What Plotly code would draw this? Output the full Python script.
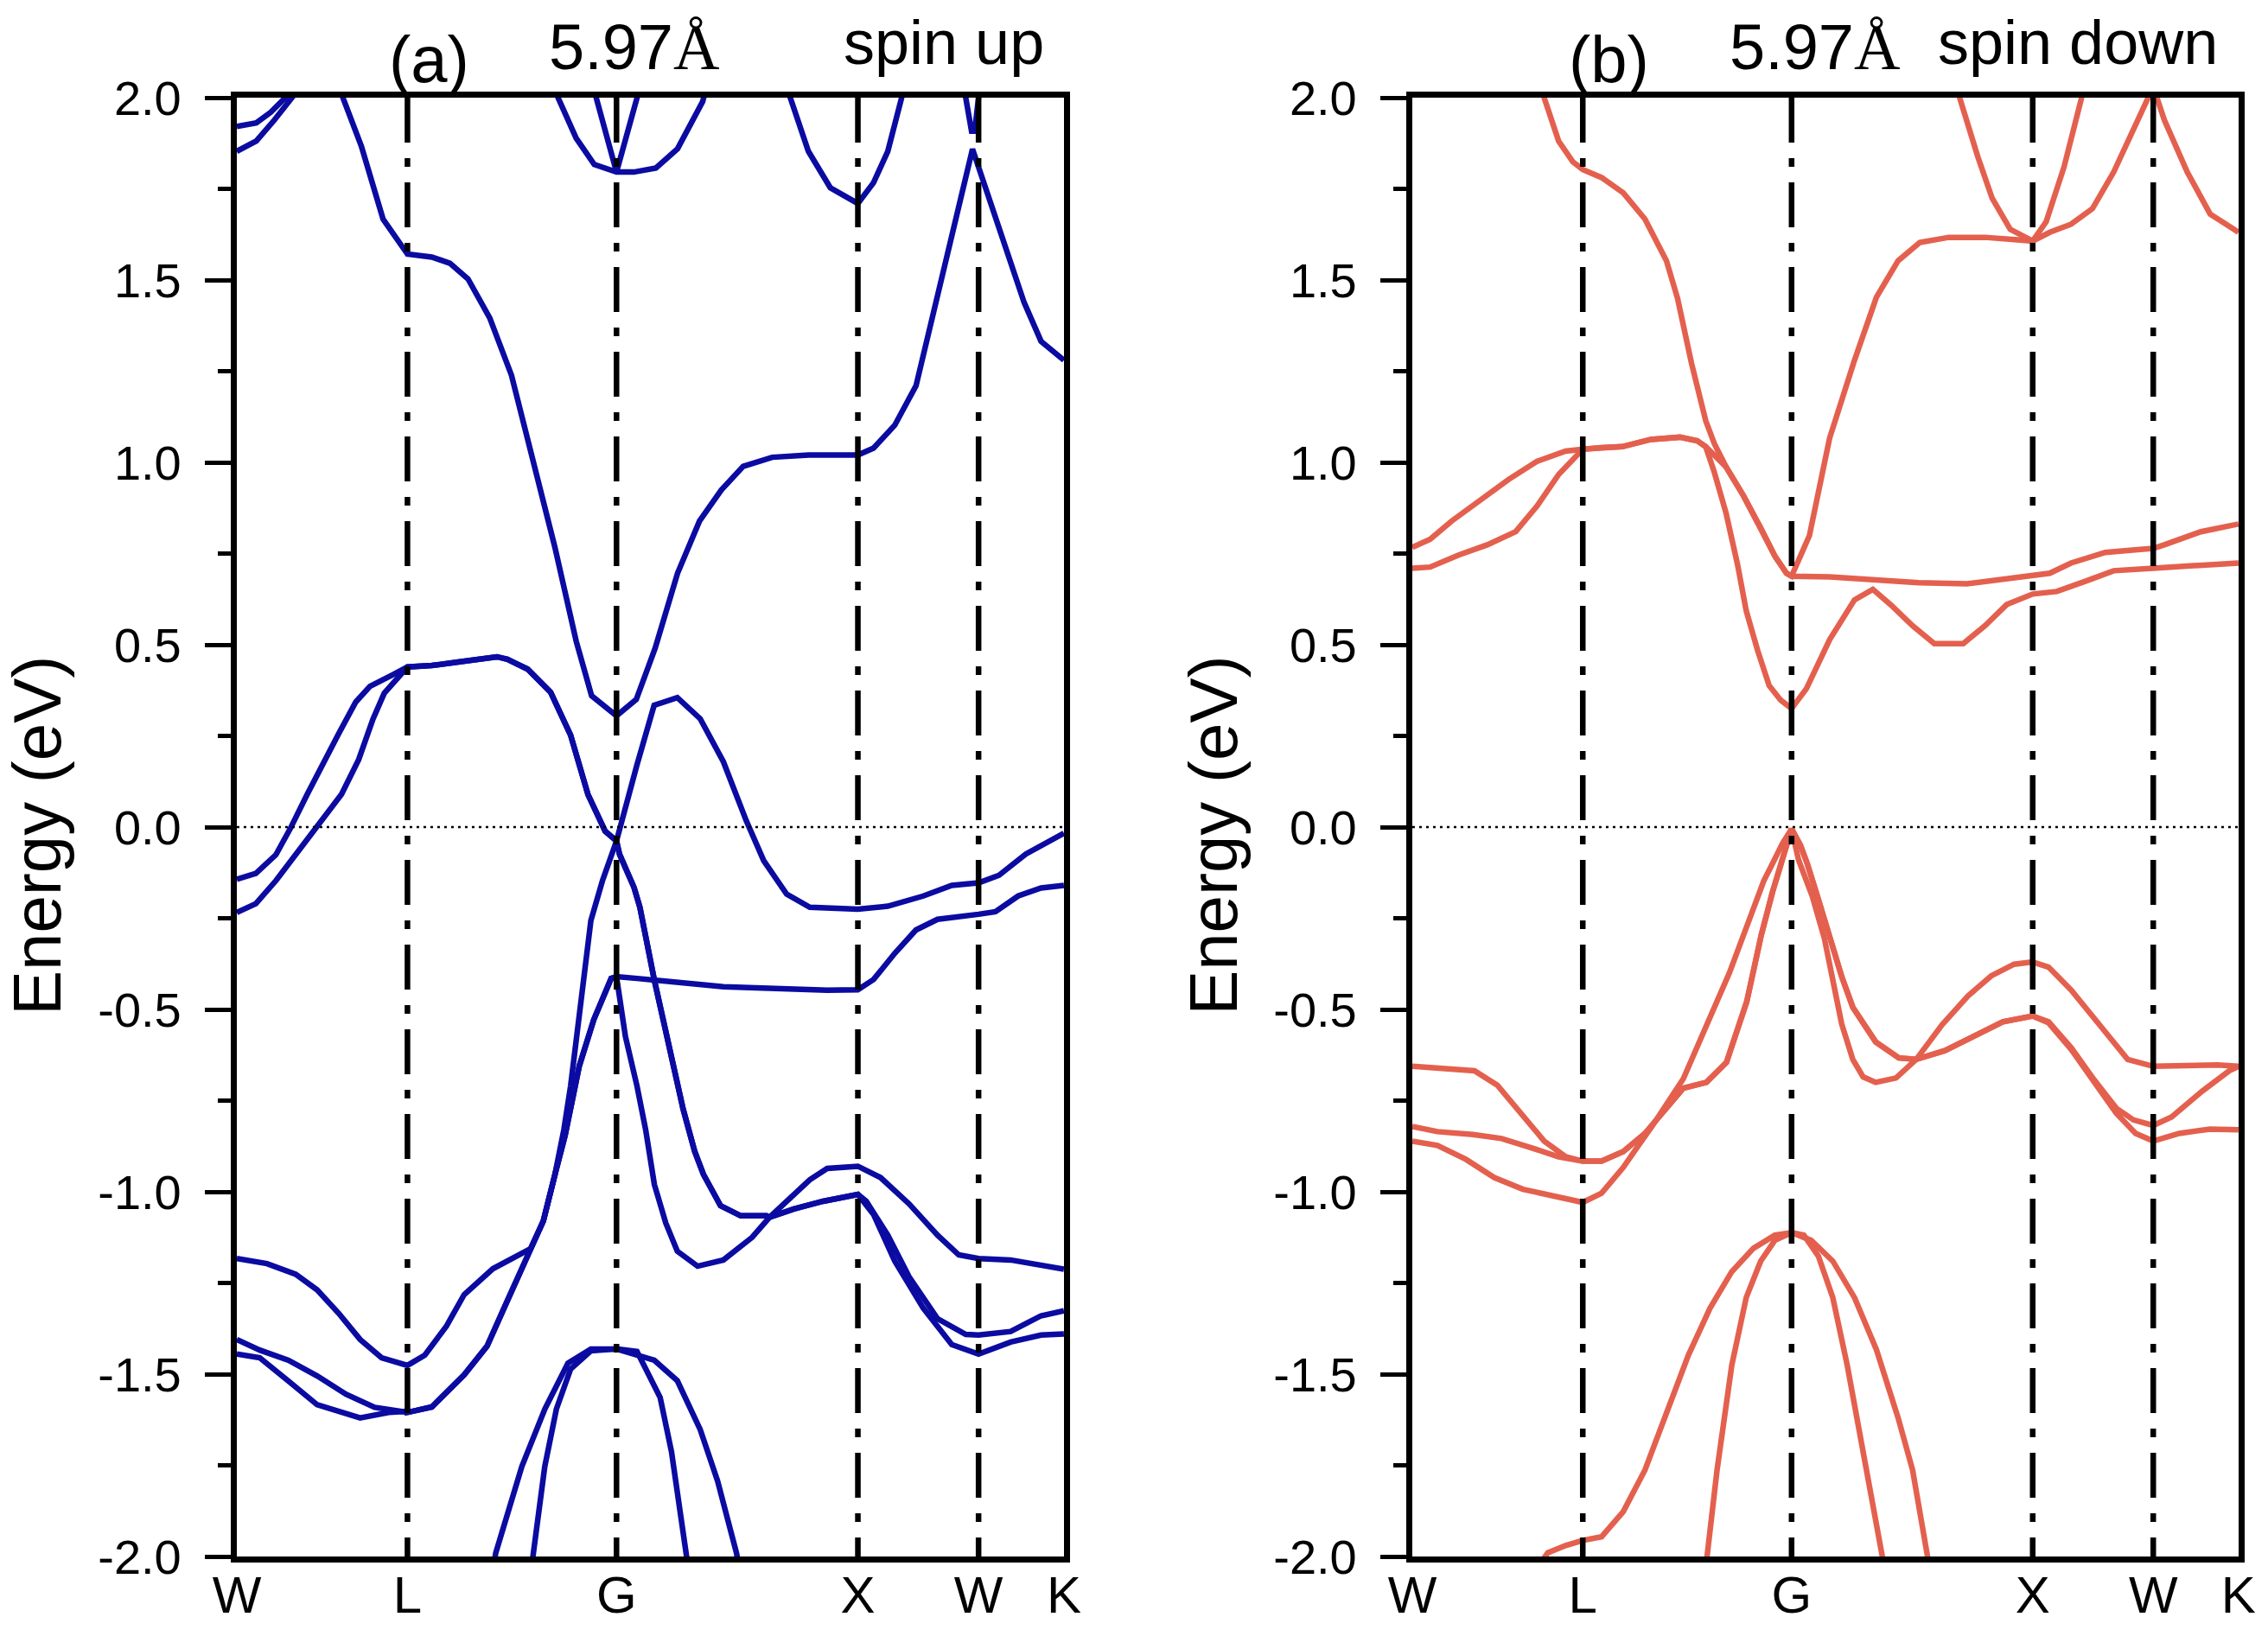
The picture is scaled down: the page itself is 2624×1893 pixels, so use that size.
import plotly.graph_objects as go

# ---------------- axes / labels ----------------
K_PTS = [0.0, 0.7071, 1.5731, 2.5731, 3.0731, 3.4267]
K_LABELS = ["W", "L", "G", "X", "W", "K"]
Y_TICKS = [2.0, 1.5, 1.0, 0.5, 0.0, -0.5, -1.0, -1.5, -2.0]
Y_TICK_TEXT = ["2.0", "1.5", "1.0", "0.5", "0.0", "-0.5", "-1.0", "-1.5", "-2.0"]
Y_MINOR = [1.75, 1.25, 0.75, 0.25, -0.25, -0.75, -1.25, -1.75]

UP_COLOR = "#0b0ba2"
DOWN_COLOR = "#e4604e"

# ---------------- panel (a): spin up ----------------
a_cb1_k = [0.0, 0.081, 0.141, 0.201, 0.246]
a_cb1_e = [1.921, 1.931, 1.96, 2.0, 2.04]
a_cb2_k = [0.0, 0.081, 0.156, 0.231, 0.276]
a_cb2_e = [1.853, 1.881, 1.939, 2.0, 2.04]
a_cb3_k = [0.411, 0.441, 0.516, 0.606, 0.651, 0.7071, 0.808, 0.883, 0.958, 1.048, 1.138, 1.228,
           1.318, 1.406, 1.47, 1.5731, 1.655, 1.733, 1.826, 1.917, 2.007, 2.098, 2.218, 2.369,
           2.5731, 2.638, 2.726, 2.814, 2.898, 3.048, 3.262, 3.332, 3.4267]
a_cb3_e = [2.05, 2.0, 1.867, 1.667, 1.624, 1.571, 1.563, 1.546, 1.503, 1.396, 1.239, 1.01,
           0.767, 0.51, 0.36, 0.305, 0.35, 0.49, 0.696, 0.839, 0.924, 0.989, 1.014, 1.02,
           1.02, 1.039, 1.102, 1.21, 1.438, 1.859, 1.438, 1.332, 1.28]
a_cb4_k = [1.301, 1.331, 1.406, 1.481, 1.5731, 1.645, 1.736, 1.826, 1.93, 1.946]
a_cb4_e = [2.05, 2.0, 1.889, 1.817, 1.796, 1.796, 1.807, 1.86, 1.989, 2.03]
a_cb5_k = [1.471, 1.489, 1.5731, 1.660, 1.675]
a_cb5_e = [2.05, 2.0, 1.796, 2.0, 2.04]
a_cb6_k = [2.278, 2.293, 2.368, 2.459, 2.5731, 2.638, 2.697, 2.757, 2.770]
a_cb6_e = [2.05, 2.0, 1.853, 1.753, 1.71, 1.767, 1.853, 2.0, 2.04]
a_cb7_k = [3.011, 3.020, 3.044, 3.057, 3.073, 3.078]
a_cb7_e = [2.05, 2.0, 1.908, 1.908, 2.0, 2.05]

# valence segments (spin up)
a_v1_wl_k = [0.0, 0.079, 0.162, 0.221, 0.292, 0.351, 0.422, 0.493, 0.552, 0.647, 0.7071]
a_v1_wl_e = [-0.143, -0.127, -0.076, -0.005, 0.09, 0.169, 0.256, 0.343, 0.386, 0.418, 0.439]
a_v2_wl_k = [0.0, 0.079, 0.162, 0.244, 0.321, 0.434, 0.505, 0.564, 0.611, 0.670, 0.7071]
a_v2_wl_e = [-0.234, -0.21, -0.147, -0.076, -0.005, 0.09, 0.185, 0.296, 0.367, 0.414, 0.439]
a_hump_k = [0.7071, 0.808, 0.942, 1.078, 1.121, 1.205, 1.300, 1.383, 1.455, 1.526, 1.5731]
a_hump_e = [0.439, 0.443, 0.453, 0.467, 0.46, 0.433, 0.37, 0.252, 0.089, -0.011, -0.038]
a_d_k = [1.5731, 1.586, 1.646, 1.670, 1.730, 1.777, 1.849, 1.897, 1.933, 2.004, 2.088, 2.195,
         2.207, 2.308, 2.429, 2.5731]
a_d_e = [-0.038, -0.075, -0.166, -0.22, -0.42, -0.556, -0.773, -0.889, -0.952, -1.038, -1.066,
         -1.066, -1.07, -1.047, -1.026, -1.007]
a_d1_k = [2.5731, 2.608, 2.697, 2.785, 2.903, 3.020, 3.0731, 3.206, 3.332, 3.4267]
a_d1_e = [-1.007, -1.026, -1.119, -1.233, -1.348, -1.391, -1.393, -1.383, -1.34, -1.326]
a_d2_k = [2.5731, 2.638, 2.726, 2.844, 2.962, 3.0731, 3.206, 3.332, 3.4267]
a_d2_e = [-1.007, -1.062, -1.19, -1.319, -1.419, -1.445, -1.412, -1.393, -1.39]
a_v3_wl_k = [0.0, 0.125, 0.244, 0.333, 0.422, 0.511, 0.600, 0.7071, 0.779, 0.868, 0.942, 1.061, 1.217]
a_v3_wl_e = [-1.183, -1.197, -1.226, -1.269, -1.333, -1.405, -1.455, -1.476, -1.448, -1.369,
             -1.282, -1.211, -1.156]
a_v4_wl_k = [0.0, 0.095, 0.214, 0.333, 0.452, 0.571, 0.7071]
a_v4_wl_e = [-1.405, -1.434, -1.462, -1.505, -1.555, -1.591, -1.605]
a_v5_wl_k = [0.0, 0.095, 0.214, 0.333, 0.511, 0.630, 0.7071]
a_v5_wl_e = [-1.445, -1.455, -1.519, -1.584, -1.62, -1.605, -1.602]
a_lg_low_k = [0.7071, 0.808, 0.942, 1.037, 1.121, 1.217]
a_lg_low_e = [-1.605, -1.59, -1.502, -1.423, -1.298, -1.156]
a_f_k = [1.217, 1.27, 1.318, 1.36, 1.419, 1.479, 1.551, 1.5731]
a_f_e = [-1.156, -1.08, -0.953, -0.846, -0.655, -0.528, -0.415, -0.41]
a_c_k = [1.217, 1.27, 1.318, 1.355, 1.383, 1.431, 1.467, 1.515, 1.5731, 1.658, 1.729, 1.825,
         1.920, 2.016, 2.111, 2.183, 2.278, 2.374, 2.5731, 2.697, 2.844, 2.962, 3.0731, 3.158,
         3.269, 3.4267]
a_c_e = [-1.156, -1.08, -0.953, -0.83, -0.71, -0.438, -0.256, -0.147, -0.038, 0.171, 0.334, 0.355,
         0.297, 0.179, 0.017, -0.092, -0.184, -0.22, -0.225, -0.217, -0.189, -0.16, -0.153, -0.132,
         -0.074, -0.017]
a_flat_k = [1.5731, 1.658, 1.730, 2.016, 2.446, 2.5731, 2.638, 2.726, 2.814, 2.903, 3.0731,
            3.143, 3.237, 3.332, 3.4267]
a_flat_e = [-0.41, -0.415, -0.42, -0.438, -0.447, -0.446, -0.418, -0.346, -0.282, -0.253, -0.239,
            -0.232, -0.189, -0.167, -0.16]
a_g_k = [1.5731, 1.61, 1.658, 1.694, 1.730, 1.777, 1.825, 1.909, 2.016, 2.135, 2.207, 2.374,
         2.446, 2.5731, 2.667, 2.785, 2.903, 2.991, 3.0731, 3.206, 3.332, 3.4267]
a_g_e = [-0.41, -0.574, -0.71, -0.83, -0.98, -1.085, -1.163, -1.204, -1.187, -1.125, -1.07, -0.967,
         -0.936, -0.93, -0.961, -1.033, -1.119, -1.173, -1.183, -1.187, -1.202, -1.212]
a_deep1_k = [1.055, 1.073, 1.181, 1.276, 1.372, 1.467, 1.5731, 1.730, 1.825, 1.920, 1.992, 2.070, 2.09]
a_deep1_e = [-2.06, -1.99, -1.753, -1.596, -1.47, -1.431, -1.431, -1.462, -1.518, -1.652, -1.793,
             -1.99, -2.06]
a_deep2_k = [1.215, 1.228, 1.276, 1.324, 1.383, 1.467, 1.5731, 1.658, 1.754, 1.801, 1.861, 1.87]
a_deep2_e = [-2.06, -1.99, -1.753, -1.596, -1.486, -1.436, -1.431, -1.438, -1.564, -1.713, -1.99, -2.03]

# ---------------- panel (b): spin down ----------------
b_cb1_k = [0.533, 0.547, 0.607, 0.666, 0.7071, 0.785, 0.875, 0.965, 1.054, 1.10, 1.158, 1.193,
           1.217, 1.253, 1.301, 1.373, 1.444, 1.504, 1.552, 1.5731, 1.647, 1.731, 1.834, 1.925,
           2.015, 2.105, 2.225, 2.375, 2.5731, 2.644, 2.732, 2.821, 2.909, 2.997, 3.0731, 3.119,
           3.214, 3.309, 3.4267]
b_cb1_e = [2.04, 2.0, 1.881, 1.824, 1.803, 1.781, 1.739, 1.667, 1.553, 1.45, 1.272, 1.178,
           1.114, 1.051, 0.988, 0.909, 0.822, 0.743, 0.696, 0.688, 0.799, 1.067, 1.28, 1.453,
           1.553, 1.603, 1.617, 1.617, 1.607, 1.631, 1.653, 1.696, 1.796, 1.924, 2.03, 1.939,
           1.796, 1.681, 1.631]
b_cb2_k = [2.255, 2.270, 2.345, 2.405, 2.480, 2.5731, 2.629, 2.703, 2.776, 2.79]
b_cb2_e = [2.05, 2.0, 1.839, 1.724, 1.639, 1.607, 1.66, 1.81, 2.0, 2.04]
b_wl_up_k = [0.0, 0.074, 0.163, 0.281, 0.399, 0.518, 0.636, 0.7071]
b_wl_up_e = [0.767, 0.789, 0.839, 0.896, 0.953, 1.003, 1.031, 1.036]
b_wl_lo_k = [0.0, 0.074, 0.192, 0.311, 0.429, 0.518, 0.607, 0.7071]
b_wl_lo_e = [0.71, 0.713, 0.746, 0.774, 0.81, 0.881, 0.967, 1.036]
b_hump_k = [0.7071, 0.79, 0.871, 0.990, 1.110, 1.182, 1.217]
b_hump_e = [1.036, 1.041, 1.043, 1.063, 1.069, 1.059, 1.043]
b_steep_k = [1.217, 1.253, 1.301, 1.349, 1.385, 1.433, 1.480, 1.528, 1.5731]
b_steep_e = [1.043, 0.972, 0.862, 0.72, 0.593, 0.483, 0.388, 0.348, 0.325]
b_wiggle_k = [1.5731, 1.635, 1.731, 1.834, 1.910, 1.985, 2.075, 2.165, 2.285, 2.375, 2.465,
              2.5731, 2.673, 2.791, 2.909, 3.0731, 3.246, 3.4267]
b_wiggle_e = [0.325, 0.38, 0.514, 0.623, 0.652, 0.609, 0.552, 0.503, 0.503, 0.552, 0.61,
              0.639, 0.646, 0.674, 0.703, 0.71, 0.717, 0.724]
b_merge_k = [1.217, 1.301, 1.373, 1.444, 1.504, 1.552, 1.5731]
b_merge_e = [1.043, 0.988, 0.909, 0.822, 0.743, 0.696, 0.688]
b_flat_k = [1.5731, 1.731, 1.90, 2.10, 2.30, 2.45, 2.5731, 2.644, 2.732, 2.874, 2.997, 3.0731,
            3.119, 3.271, 3.4267]
b_flat_e = [0.688, 0.686, 0.679, 0.67, 0.667, 0.681, 0.689, 0.696, 0.724, 0.753, 0.76, 0.764,
            0.774, 0.81, 0.831]

b_v1_wl_k = [0.0, 0.258, 0.353, 0.471, 0.547, 0.636, 0.7071]
b_v1_wl_e = [-0.656, -0.668, -0.708, -0.803, -0.861, -0.904, -0.916]
b_v2_wl_k = [0.0, 0.104, 0.252, 0.37, 0.488, 0.607, 0.7071]
b_v2_wl_e = [-0.821, -0.835, -0.843, -0.854, -0.878, -0.904, -0.916]
b_v3_wl_k = [0.0, 0.104, 0.222, 0.34, 0.459, 0.577, 0.7071]
b_v3_wl_e = [-0.861, -0.873, -0.911, -0.961, -0.993, -1.011, -1.029]
b_inner_k = [0.7071, 0.785, 0.875, 0.965, 1.055, 1.124, 1.220, 1.303, 1.387, 1.447, 1.494, 1.530, 1.5731]
b_inner_e = [-0.916, -0.916, -0.89, -0.84, -0.77, -0.716, -0.70, -0.645, -0.479, -0.297, -0.178,
             -0.10, -0.005]
b_outer_k = [0.7071, 0.785, 0.875, 0.935, 0.995, 1.124, 1.244, 1.315, 1.387, 1.458, 1.494, 1.535, 1.5731]
b_outer_e = [-1.029, -1.004, -0.933, -0.876, -0.82, -0.69, -0.51, -0.40, -0.273, -0.147, -0.10,
             -0.045, -0.005]
b_qs_k = [1.5731, 1.61, 1.638, 1.685, 1.731, 1.781, 1.827, 1.922, 2.018, 2.090, 2.209, 2.329, 2.449, 2.5731]
b_qs_e = [-0.005, -0.05, -0.10, -0.2, -0.297, -0.41, -0.494, -0.589, -0.633, -0.637, -0.613,
          -0.573, -0.534, -0.518]
b_qd_k = [1.5731, 1.602, 1.659, 1.709, 1.755, 1.781, 1.827, 1.87, 1.922, 2.006, 2.090, 2.197,
          2.305, 2.401, 2.496, 2.5731]
b_qd_e = [-0.005, -0.09, -0.19, -0.305, -0.455, -0.54, -0.637, -0.685, -0.70, -0.688, -0.637,
          -0.542, -0.463, -0.408, -0.376, -0.37]
b_xw_up_k = [2.5731, 2.639, 2.733, 2.850, 2.967, 3.0731, 3.212, 3.339, 3.4267]
b_xw_up_e = [-0.37, -0.384, -0.447, -0.542, -0.637, -0.656, -0.652, -0.652, -0.656]
b_d1_k = [2.5731, 2.639, 2.733, 2.827, 2.920, 2.991, 3.0731, 3.149, 3.276, 3.389, 3.4267]
b_d1_e = [-0.518, -0.534, -0.605, -0.692, -0.771, -0.803, -0.818, -0.795, -0.724, -0.668, -0.656]
b_d2_k = [2.5731, 2.639, 2.733, 2.827, 2.920, 3.0, 3.0731, 3.181, 3.309, 3.4267]
b_d2_e = [-0.518, -0.537, -0.61, -0.70, -0.785, -0.84, -0.861, -0.84, -0.828, -0.83]
b_deep1_k = [0.518, 0.562, 0.636, 0.7071, 0.785, 0.875, 0.965, 1.055, 1.145, 1.235, 1.325, 1.415,
             1.504, 1.5731, 1.654, 1.744, 1.834, 1.925, 2.015, 2.075, 2.135, 2.15]
b_deep1_e = [-2.03, -1.99, -1.97, -1.956, -1.946, -1.877, -1.763, -1.605, -1.448, -1.319, -1.219,
             -1.155, -1.119, -1.112, -1.133, -1.19, -1.29, -1.433, -1.62, -1.763, -2.0, -2.05]
b_deep2_k = [1.219, 1.264, 1.325, 1.385, 1.445, 1.504, 1.5731, 1.624, 1.684, 1.744, 1.804, 1.864, 1.955]
b_deep2_e = [-2.02, -1.763, -1.476, -1.29, -1.19, -1.133, -1.112, -1.119, -1.176, -1.29, -1.476,
             -1.691, -2.02]


def join(*segs):
    ks, es = [], []
    for k, e in segs:
        ks.extend(k)
        es.extend(e)
    return ks, es


up_bands = [
    (a_cb1_k, a_cb1_e), (a_cb2_k, a_cb2_e), (a_cb3_k, a_cb3_e), (a_cb4_k, a_cb4_e),
    (a_cb5_k, a_cb5_e), (a_cb6_k, a_cb6_e), (a_cb7_k, a_cb7_e),
    join((a_v1_wl_k, a_v1_wl_e), (a_hump_k, a_hump_e), (a_d_k, a_d_e), (a_d2_k, a_d2_e)),
    join((a_v2_wl_k, a_v2_wl_e), (a_hump_k, a_hump_e), (a_d_k, a_d_e), (a_d1_k, a_d1_e)),
    join((a_v3_wl_k, a_v3_wl_e), (a_f_k, a_f_e), (a_flat_k, a_flat_e)),
    join((a_v4_wl_k, a_v4_wl_e), (a_lg_low_k, a_lg_low_e), (a_c_k, a_c_e)),
    join((a_v5_wl_k, a_v5_wl_e), (a_lg_low_k, a_lg_low_e), (a_f_k, a_f_e), (a_g_k, a_g_e)),
    (a_deep1_k, a_deep1_e), (a_deep2_k, a_deep2_e),
]

down_bands = [
    (b_cb1_k, b_cb1_e), (b_cb2_k, b_cb2_e),
    join((b_wl_up_k, b_wl_up_e), (b_hump_k, b_hump_e), (b_steep_k, b_steep_e), (b_wiggle_k, b_wiggle_e)),
    join((b_wl_lo_k, b_wl_lo_e), (b_hump_k, b_hump_e), (b_merge_k, b_merge_e), (b_flat_k, b_flat_e)),
    join((b_v1_wl_k, b_v1_wl_e), (b_inner_k, b_inner_e), (b_qs_k, b_qs_e), (b_d2_k, b_d2_e)),
    join((b_v2_wl_k, b_v2_wl_e), (b_inner_k, b_inner_e), (b_qs_k, b_qs_e), (b_d1_k, b_d1_e)),
    join((b_v3_wl_k, b_v3_wl_e), (b_outer_k, b_outer_e), (b_qd_k, b_qd_e), (b_xw_up_k, b_xw_up_e)),
    (b_deep1_k, b_deep1_e), (b_deep2_k, b_deep2_e),
]

fig = go.Figure()

for bands, color, xa, ya in [(up_bands, UP_COLOR, "x", "y"), (down_bands, DOWN_COLOR, "x2", "y2")]:
    for k, e in bands:
        fig.add_trace(go.Scatter(x=k, y=e, mode="lines", xaxis=xa, yaxis=ya,
                                 line=dict(color=color, width=6.5), hoverinfo="skip",
                                 showlegend=False))
    # Fermi level
    fig.add_trace(go.Scatter(x=[K_PTS[0], K_PTS[-1]], y=[0, 0], mode="lines", xaxis=xa, yaxis=ya,
                             line=dict(color="black", width=2.5, dash="3px,5px"),
                             hoverinfo="skip", showlegend=False))
    # high-symmetry lines
    for kp in K_PTS[1:-1]:
        fig.add_trace(go.Scatter(x=[kp, kp], y=[Y_TICKS[0], Y_TICKS[-1]], mode="lines",
                                 xaxis=xa, yaxis=ya,
                                 line=dict(color="black", width=6.5, dash="52px,18px,10px,18px"),
                                 hoverinfo="skip", showlegend=False))

FONT = "Liberation Sans, Arial, sans-serif"

xcommon = dict(range=[K_PTS[0], K_PTS[-1]], tickmode="array", tickvals=K_PTS, ticktext=K_LABELS,
               ticks="", showline=True, linecolor="black", linewidth=7, mirror=True,
               showgrid=False, zeroline=False, ticklabelstandoff=-14, automargin=False,
               tickfont=dict(family=FONT, size=60, color="black"))
ycommon = dict(range=[-2, 2], tickmode="array", tickvals=Y_TICKS, ticktext=Y_TICK_TEXT,
               ticks="outside", ticklen=30, tickwidth=5, tickcolor="black",
               minor=dict(tickmode="array", tickvals=Y_MINOR, ticks="outside", ticklen=15,
                          tickwidth=5, tickcolor="black"),
               showline=True, linecolor="black", linewidth=7, mirror=True,
               showgrid=False, zeroline=False, ticklabelstandoff=16, automargin=False,
               tickfont=dict(family=FONT, size=56, color="black"))

YDOM = [0.0486, 0.9403]
fig.update_layout(
    width=2624, height=1893,
    margin=dict(l=0, r=0, t=0, b=0, pad=0),
    paper_bgcolor="white", plot_bgcolor="white",
    showlegend=False,
    font=dict(family=FONT, color="black"),
    xaxis=dict(domain=[0.1044, 0.4691], anchor="y", **xcommon),
    yaxis=dict(domain=YDOM, anchor="x", **ycommon),
    xaxis2=dict(domain=[0.6227, 0.9870], anchor="y2", **xcommon),
    yaxis2=dict(domain=YDOM, anchor="x2", **ycommon),
)

ANG = '5.97<span style="font-family:Liberation Serif">Å</span>'
titles = [
    ("(a)", 0.1894, 0.964, 76), (ANG, 0.2797, 0.971, 74), ("spin up", 0.4162, 0.974, 72),
    ("(b)", 0.7096, 0.964, 76), (ANG, 0.8003, 0.971, 74), ("spin down", 0.9162, 0.974, 72),
]
for txt, x, y, s in titles:
    fig.add_annotation(text=txt, x=x, y=y, xref="paper", yref="paper", showarrow=False,
                       xanchor="center", yanchor="middle",
                       font=dict(family=FONT, size=s, color="black"))
for x in [0.0164, 0.535]:
    fig.add_annotation(text="Energy (eV)", x=x, y=0.4892, xref="paper", yref="paper",
                       showarrow=False, textangle=-90, xanchor="center", yanchor="middle",
                       font=dict(family=FONT, size=78, color="black"))

fig.write_html("out.html", config={"displayModeBar": False},
               post_script="document.body.style.margin='0';")
